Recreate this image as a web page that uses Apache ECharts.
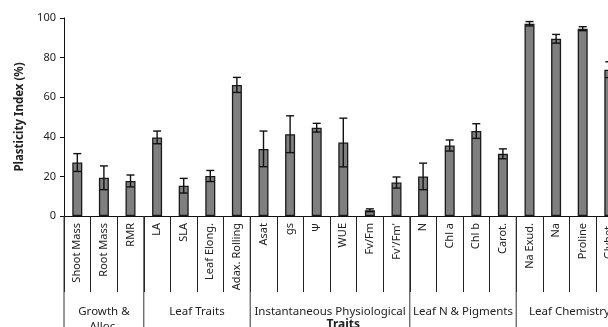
<!DOCTYPE html>
<html>
<head>
<meta charset="utf-8">
<script src="https://cdn.jsdelivr.net/npm/echarts@6/dist/echarts.min.js"></script>
<style>
html,body{margin:0;padding:0;background:#fff;}
#c{width:608px;height:327px;}
</style>
</head>
<body>
<div id="c"></div>
<script>
const categories = ['Shoot Mass','Root Mass','RMR','LA','SLA','Leaf Elong.','Adax. Rolling','Asat','gs','\u03A8','WUE','Fv/Fm',"Fv'/Fm'",'N','Chl a','Chl b','Carot.','Na Exud.','Na','Proline','Glybet.'];
const values = [27, 19.3, 17.7, 39.7, 15.3, 20.2, 66.2, 33.9, 41.3, 44.6, 37.1, 2.9, 16.9, 20, 35.6, 42.9, 31.4, 97.1, 89.5, 94.6, 73.9];
const errors = [4.5, 6, 3, 3.2, 3.7, 2.8, 3.8, 9, 9.3, 2.2, 12.3, 0.7, 2.8, 6.7, 2.8, 3.7, 2.5, 1.1, 2.2, 1, 4];
const groupNames = ['Growth &\nAlloc.', 'Leaf Traits', 'Instantaneous Physiological', 'Leaf N & Pigments', 'Leaf Chemistry'];
const groupSizes = [3, 4, 6, 4, 4];
const yTicks = [0, 20, 40, 60, 80, 100];

const FONT = 'Noto Sans';
const TXT = '#222';

const errData = values.map((v, i) => [i, v, errors[i]]);
let start = 0;
const groupData = groupNames.map((n, i) => { const d = [start, groupSizes[i], n]; start += groupSizes[i]; return d; });

const chart = echarts.init(document.getElementById('c'));
chart.setOption({
  animation: false,
  backgroundColor: '#fff',
  textStyle: { fontFamily: FONT },
  grid: { left: 64, top: 18, bottom: 111, width: 558.6, containLabel: false, outerBoundsMode: 'none' },
  xAxis: {
    type: 'category',
    data: categories,
    name: 'Traits',
    nameLocation: 'middle',
    nameGap: 103,
    nameTextStyle: { fontFamily: FONT, fontSize: 12, fontWeight: 'bold', color: TXT, verticalAlign: 'top' },
    axisLine: { lineStyle: { color: '#111', width: 1 } },
    axisTick: { show: true, interval: 0, length: 76, lineStyle: { color: '#222', width: 1 } },
    axisLabel: { interval: 0, rotate: 90, margin: 7, fontFamily: FONT, fontSize: 11, color: TXT }
  },
  yAxis: {
    type: 'value',
    min: yTicks[0],
    max: yTicks[yTicks.length - 1],
    interval: 20,
    name: 'Plasticity Index (%)',
    nameLocation: 'middle',
    nameGap: 38,
    nameTextStyle: { fontFamily: FONT, fontSize: 11.5, fontWeight: 'bold', color: TXT },
    splitLine: { show: false },
    axisLine: { show: true, lineStyle: { color: '#111', width: 1 } },
    axisTick: { show: true, length: 4, lineStyle: { color: '#111' } },
    axisLabel: { fontFamily: FONT, fontSize: 11, color: TXT, margin: 8 }
  },
  series: [
    {
      type: 'bar',
      data: values,
      barWidth: 10,
      itemStyle: { color: '#7f7f7f', borderColor: '#1a1a1a', borderWidth: 1.3 }
    },
    {
      type: 'custom',
      data: errData,
      clip: false,
      silent: true,
      z: 5,
      renderItem: function (params, api) {
        const i = api.value(0), v = api.value(1), e = api.value(2);
        const top = api.coord([i, v + e]);
        const bot = api.coord([i, Math.max(0, v - e)]);
        const hw = 4;
        const st = { stroke: '#111', lineWidth: 1.4 };
        return { type: 'group', children: [
          { type: 'line', shape: { x1: top[0], y1: top[1], x2: bot[0], y2: bot[1] }, style: st },
          { type: 'line', shape: { x1: top[0] - hw, y1: top[1], x2: top[0] + hw, y2: top[1] }, style: st },
          { type: 'line', shape: { x1: bot[0] - hw, y1: bot[1], x2: bot[0] + hw, y2: bot[1] }, style: st }
        ]};
      }
    },
    {
      type: 'custom',
      data: groupData,
      clip: false,
      silent: true,
      renderItem: function (params, api) {
        const s = api.value(0), n = api.value(1);
        const name = groupNames[params.dataIndex];
        const bw = api.size([1, 0])[0];
        const p = api.coord([s, 0]);
        const left = p[0] - bw / 2;
        const y0 = p[1];
        const H = api.getHeight();
        return { type: 'group', children: [
          { type: 'line', shape: { x1: left, y1: y0, x2: left, y2: H }, style: { stroke: '#333', lineWidth: 1 } },
          { type: 'text', style: { x: left + n * bw / 2, y: y0 + 88, text: name, fill: TXT, font: '11.5px "' + FONT + '"', align: 'center', verticalAlign: 'top', lineHeight: 15 } }
        ]};
      }
    }
  ]
});
</script>
</body>
</html>
